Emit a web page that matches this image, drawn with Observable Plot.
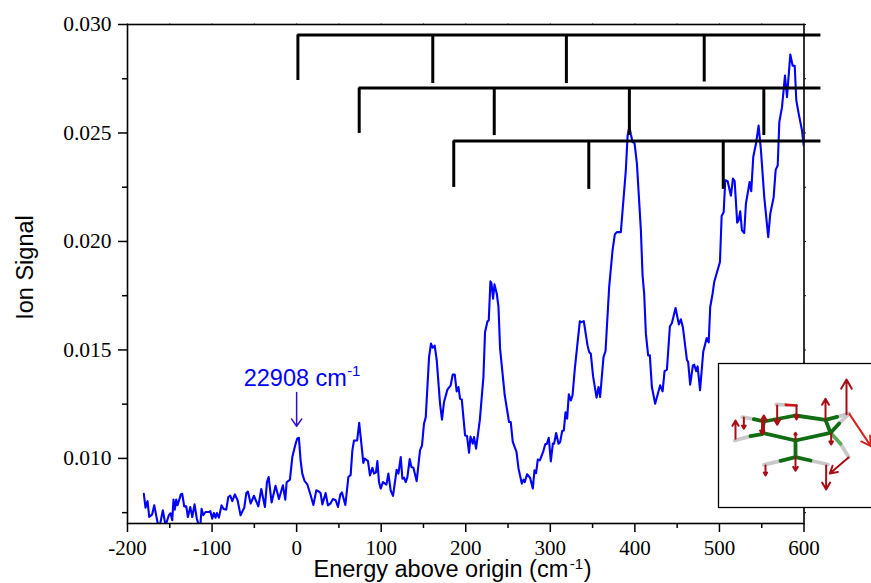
<!DOCTYPE html>
<html>
<head>
<meta charset="utf-8">
<script src="https://cdn.jsdelivr.net/npm/d3@7"></script>
<script src="https://cdn.jsdelivr.net/npm/@observablehq/plot@0.6"></script>
<style>
html,body{margin:0;padding:0;background:#fff;overflow:hidden}
#wrap{position:relative;width:871px;height:583px;overflow:hidden}
#wrap svg{position:absolute;overflow:visible;background:transparent}
</style>
</head>
<body>
<div id="wrap"></div>
<script>
// Spectrum: energy above origin (cm-1)
const energy = [-180.7,-178.7,-176.3,-174.3,-170.8,-168.4,-164.5,-162.1,-158.2,-155,-151.1,-149.1,-147.1,-145.6,-144,-142.4,-140.8,-139,-136.9,-135.3,-132.9,-130.5,-128.6,-125.8,-123.4,-120.7,-118,-115.6,-114,-112.4,-110.4,-107.7,-103.3,-102.1,-99.8,-97.9,-95.9,-94.3,-91.9,-88.8,-86.4,-83.2,-80.8,-78.5,-76.1,-73,-69.8,-66.3,-61.9,-59.5,-57.6,-54.4,-50.5,-45.3,-41.8,-37.5,-35.1,-33.1,-29.6,-24.9,-20.9,-16.2,-13.4,-11.8,-7.9,-5.1,-1.2,0.8,2.7,4.7,6.7,9.5,12.7,16.6,19.8,23.3,26.4,28.4,30.4,34.3,37,40.2,43,46.2,48.9,51.7,53.6,57.6,61.2,63.9,65.9,67.8,71.6,74,78.9,80.5,84.4,86.7,89.6,91.5,93.8,95.5,97.4,99.4,102.1,106.2,108.5,111.2,114,118.3,120.4,123.1,125.1,127,129,131,133.7,135.7,138.1,142,145.9,148.3,150.6,152.7,156.6,158.9,160.9,163.3,165.7,169.6,171.9,174.3,178.3,182.2,184.6,187,189.3,191.4,193.3,195.3,199.2,201.5,203.9,205.6,208.3,209.8,212.2,216.6,220.9,222.8,225.7,227.2,229.2,230.4,232.3,234,236.7,238.7,240.6,246.1,251.2,253.2,255.6,260,262.4,266.3,268.3,269.8,272.5,276.1,279.3,281.3,283.2,285.2,287.6,291.5,294,295.9,298.2,300.6,303,304.5,306.9,309.7,311.6,314,316,318,319.9,321.9,324.3,326.3,329,334.9,336.9,339.6,344,345.9,347.9,350.6,354.7,357,358.9,362.9,365.3,369.6,373.6,376.3,378.7,383.4,389.3,391.4,393.5,395.3,397.3,399.6,402.4,407.1,409.1,411,413,415.7,417.7,420.1,424,429.9,432.8,435.1,437.9,441.4,443.8,448.1,452,454.4,456.8,461.5,463,465.4,468.6,470.2,472.5,474.2,477.1,480.8,484.9,487.3,489.1,491.9,493.8,500.6,502.6,505,506.9,509.7,513.6,516,518,521,522.7,524.6,526.6,529.3,531.3,535.7,537.6,540,543.2,546.3,549.1,553,557.7,560.1,564.1,566.5,568.9,570.8,574,577.5,579.9,583.8,586.6,589,590.9,593.7,597.6,599.6];
const ionSignal = [.00837,.00773,.00803,.0073,.00742,.00784,.00705,.00684,.00761,.00691,.00738,.00747,.00715,.0081,.00764,.0081,.00784,.00807,.00834,.00837,.00779,.00779,.0073,.00776,.0073,.00788,.00722,.00691,.00682,.00768,.00738,.00753,.00753,.00757,.00722,.00748,.00727,.00748,.00727,.00784,.00767,.00764,.00822,.00828,.00803,.00834,.00807,.00738,.00773,.0084,.00847,.00792,.00828,.00779,.00859,.00776,.00891,.00914,.00797,.00874,.00813,.00876,.0081,.0089,.00902,.01006,.01068,.01092,.01095,.00991,.0093,.00895,.0088,.0083,.00785,.00853,.00847,.00839,.00788,.0084,.00784,.00793,.00813,.00807,.00776,.00834,.00843,.00785,.00914,.00924,.01037,.01082,.01083,.01164,.00979,.00999,.00988,.00922,.00957,.0093,.00936,.00988,.00891,.00861,.00891,.00879,.0093,.00853,.00827,.00948,.0093,.01006,.00907,.00911,.00891,.00914,.00997,.0096,.00957,.00895,.01037,.0106,.0116,.0119,.01467,.01529,.0151,.0152,.01452,.01252,.01179,.0126,.01317,.01337,.01387,.01386,.01309,.01329,.01275,.01272,.01106,.01103,.01026,.01101,.01068,.01098,.01045,.01175,.01375,.01582,.01632,.01636,.01816,.01807,.01736,.01802,.01759,.01698,.01506,.01291,.01168,.01168,.01076,.0103,.00953,.00884,.00902,.00891,.00927,.00911,.00861,.00945,.00932,.00995,.00991,.0103,.01065,.01067,.01095,.00986,.01068,.01068,.01117,.01068,.01075,.01126,.01129,.01213,.01183,.01295,.01267,.01291,.01414,.01632,.01628,.01633,.01521,.0149,.01482,.01378,.0128,.01329,.01283,.01467,.01495,.0179,.01959,.02033,.02043,.02043,.02328,.02489,.0253,.02493,.02458,.02453,.0236,.02051,.01843,.01759,.01575,.01475,.01475,.01329,.01252,.01337,.01309,.01402,.01409,.01608,.01624,.01693,.01618,.01641,.01604,.01455,.01444,.0134,.01429,.01432,.01402,.01424,.01314,.0149,.01555,.01535,.01698,.01759,.01813,.01905,.02117,.02135,.02282,.02278,.02211,.0229,.02278,.02087,.02097,.02139,.02051,.02039,.02174,.02274,.02232,.02389,.0245,.02534,.0242,.02204,.0202,.02128,.02204,.0233,.0235,.0255,.02619,.02765,.02665,.02862,.0281,.0281,.0265,.02589,.02512,.02443];

// Progression combs: start of each bar, height of bar, height reached by tooth tips
const combStarts = [1.5, 74, 185.8];
const combLevels = [.02952, .02707, .02463];
const combEnd = 620;
const teeth = [
  [1.5, .02952, .02742], [161, .02952, .02728], [319, .02952, .02728], [482, .02952, .02735],
  [74, .02707, .02498], [233.7, .02707, .02488], [393.5, .02707, .02488], [552.5, .02707, .02488],
  [185.8, .02463, .02249], [345.5, .02463, .0224], [504.5, .02463, .0224]
];

// Axis ticks
const xMajor = [-200,-100,0,100,200,300,400,500,600];
const xMinor = [-150,-50,50,150,250,350,450,550];
const yMajor = [.010,.015,.020,.025,.030];
const yMinor = [.0075,.0125,.0175,.0225,.0275];

// Inset molecule, in its own drawing units: [x1,y1,x2,y2]
const bondsGreen = [[155,232,255,255],[255,255,360,232],[360,232,345,193],[345,193,255,180],[255,180,160,198],[160,198,155,232],[255,255,255,305],[255,305,210,316],[255,305,300,315],[155,236,120,242],[160,198,130,191],[345,193,380,184],[360,232,386,204]];
const bondsPale = [[360,232,390,265]];
const bondsGrey = [[210,316,160,328],[300,315,352,327],[120,242,73,255],[130,191,95,185],[380,184,416,174],[386,204,416,174],[390,265,415,305],[197,147,226,148]];
const bondsRedPlain = [[226,148,258,150]];
const vectorsDark = [[408,176,408,72],[345,192,345,130],[160,232,160,180],[155,198,155,236],[100,186,100,220],[75,250,75,195],[255,252,255,232],[255,305,255,346],[165,330,165,360],[347,330,347,402],[414,306,358,354],[362,235,362,267],[200,150,200,208],[258,150,258,192]];
const vectorsBright = [[417,176,481,272]];

const serif = "'Liberation Serif','Times New Roman',serif";
const sans = "'Liberation Sans',Arial,sans-serif";
const points = energy.map((e,i)=>({e, s:ionSignal[i]}));

const chart = Plot.plot({
  width:871, height:583,
  marginLeft:127, marginRight:67.5, marginTop:24, marginBottom:60,
  style:{background:"transparent", overflow:"visible"},
  x:{domain:[-200,600], label:null},
  y:{domain:[.007,.030], label:null},
  marks:[
    Plot.line(points,{x:"e",y:"s",stroke:"#0000ff",strokeWidth:2.1,clip:true,curve:"linear"}),
    Plot.frame({stroke:"#000",strokeWidth:1.6}),
    Plot.ruleY(combLevels,{y:d=>d,x1:(d,i)=>combStarts[i],x2:combEnd,stroke:"#000",strokeWidth:3}),
    Plot.ruleX(teeth,{x:d=>d[0],y1:d=>d[1],y2:d=>d[2],stroke:"#000",strokeWidth:3}),
    Plot.axisX({ticks:xMajor,tickSize:9,tickPadding:8,tickFormat:d=>String(d),fontFamily:serif,fontSize:21,strokeWidth:1.5,label:null}),
    Plot.axisX({ticks:xMinor,tickSize:5,text:null,strokeWidth:1.5,label:null}),
    Plot.axisY({ticks:yMajor,tickSize:9,tickPadding:7,tickFormat:d3.format(".3f"),fontFamily:serif,fontSize:21.5,strokeWidth:1.5,label:null}),
    Plot.axisY({ticks:yMinor,tickSize:5,text:null,strokeWidth:1.5,label:null}),
    Plot.axisX({anchor:"top",ticks:xMinor.concat(xMajor),tickSize:1.5,text:null,strokeWidth:1,label:null}),
    Plot.axisY({anchor:"right",ticks:yMinor.concat(yMajor),tickSize:1.5,text:null,strokeWidth:1,label:null}),
    Plot.arrow([0],{x1:0,x2:0,y1:.01304,y2:.01148,stroke:"#3010d0",strokeWidth:1.5,headLength:9,headAngle:70,bend:0}),
    Plot.text(["22908 cm"],{x:-62.6,y:.01335,text:d=>d,textAnchor:"start",lineAnchor:"bottom",fill:"#0000ff",fontFamily:sans,fontSize:23.5}),
    Plot.text(["-1"],{x:75.5,y:.0138,text:d=>d,textAnchor:"end",lineAnchor:"bottom",fill:"#0000ff",fontFamily:sans,fontSize:15}),
    Plot.text(["Energy above origin (cm"],{x:20,y:.007,dy:37,text:d=>d,textAnchor:"start",lineAnchor:"top",fill:"#000",fontFamily:sans,fontSize:23.5}),
    Plot.text(["-1"],{x:323,y:.007,dy:35,text:d=>d,textAnchor:"start",lineAnchor:"top",fill:"#000",fontFamily:sans,fontSize:15}),
    Plot.text([")"],{x:339.6,y:.007,dy:37,text:d=>d,textAnchor:"start",lineAnchor:"top",fill:"#000",fontFamily:sans,fontSize:23.5}),
    Plot.text(["Ion Signal"],{x:-200,y:.0188,dx:-102,text:d=>d,rotate:-90,fill:"#000",fontFamily:sans,fontSize:23.5})
  ]
});

const seg = (arr,color,w)=>Plot.link(arr,{x1:d=>d[0],y1:d=>d[1],x2:d=>d[2],y2:d=>d[3],stroke:color,strokeWidth:w,strokeLinecap:"round"});
const vec = (arr,color)=>Plot.arrow(arr,{x1:d=>d[0],y1:d=>d[1],x2:d=>d[2],y2:d=>d[3],stroke:color,strokeWidth:2,headLength:8,headAngle:60,bend:0});
const inset = Plot.plot({
  width:160, height:144,
  marginLeft:0, marginRight:0, marginTop:0, marginBottom:0,
  style:{background:"#fff", overflow:"visible"},
  x:{domain:[24,504], axis:null},
  y:{domain:[456,24], axis:null},
  marks:[
    Plot.frame({stroke:"#000",strokeWidth:1.3,fill:"#fff"}),
    seg(bondsGrey,"#c9c9c9",3.8),
    seg(bondsPale,"#5cab5c",3.8),
    seg(bondsGreen,"#0f6d12",3.8),
    seg(bondsRedPlain,"#d01010",2.6),
    vec(vectorsDark,"#a80d15"),
    vec(vectorsBright,"#d82020")
  ]
});
const wrap = document.getElementById("wrap");
chart.style.left="0px"; chart.style.top="0px";
inset.style.left="718px"; inset.style.top="363px";
wrap.appendChild(chart);
wrap.appendChild(inset);
</script>
</body>
</html>
